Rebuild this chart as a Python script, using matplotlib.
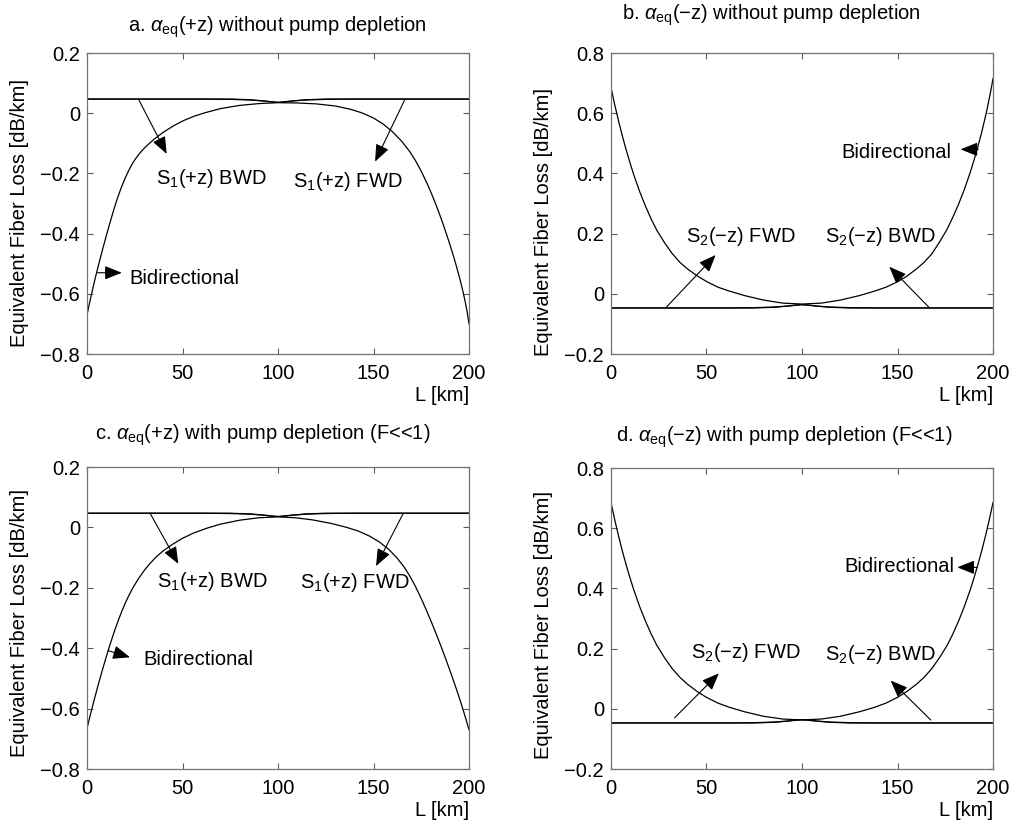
import matplotlib
matplotlib.use("Agg")
import matplotlib.pyplot as plt
from matplotlib.ticker import FuncFormatter

plt.rcParams['font.family'] = 'Liberation Sans'
plt.rcParams['mathtext.fontset'] = 'custom'
plt.rcParams['mathtext.rm'] = 'Liberation Sans'
plt.rcParams['mathtext.it'] = 'Liberation Sans:italic'
plt.rcParams['mathtext.bf'] = 'Liberation Sans:bold'
plt.rcParams['font.size'] = 14.5

# Bidirectional equivalent loss, alpha_eq(+z), no pump depletion
L_a = [0, 1, 2, 3, 4, 5, 6.5, 8, 10, 12, 14, 16, 18, 20, 22, 24, 26, 28, 30, 33, 36, 40, 45,
       50, 56, 62, 70, 80, 90, 100,
       110, 120, 130, 138, 144, 150, 155, 160, 165, 169, 172, 175, 178, 180, 182, 184, 186,
       188, 190, 192, 193.5, 195, 196, 197, 198, 199, 200]
bid_a = [-0.670, -0.640, -0.611, -0.583, -0.556, -0.530, -0.4925, -0.456, -0.409, -0.364,
         -0.321, -0.281, -0.246, -0.215, -0.188, -0.165, -0.146, -0.130, -0.116, -0.098,
         -0.082, -0.063, -0.043, -0.026, -0.010, 0.002, 0.0155, 0.026, 0.032, 0.035,
         0.034, 0.031, 0.024, 0.013, 0.001, -0.016, -0.036, -0.062, -0.095, -0.128, -0.158,
         -0.193, -0.233, -0.262, -0.293, -0.326, -0.361, -0.398, -0.437, -0.478, -0.511,
         -0.546, -0.571, -0.598, -0.627, -0.660, -0.700]

# alpha_eq(-z), no pump depletion
L_b = [0, 2, 4, 6, 8, 10, 12, 15, 18, 21, 24, 28, 32, 36, 40, 45, 50, 56, 62, 70, 80, 90, 100,
       110, 120, 130, 138, 144, 150, 155, 160, 164, 168, 172, 176, 179, 182, 185, 188, 190,
       192, 194, 196, 197, 198, 199, 200]
bid_b = [0.685, 0.627, 0.573, 0.523, 0.477, 0.434, 0.394, 0.340, 0.292, 0.249, 0.211, 0.170,
         0.134, 0.105, 0.083, 0.060, 0.041, 0.022, 0.009, -0.006, -0.021, -0.031, -0.034,
         -0.031, -0.021, -0.006, 0.009, 0.022, 0.040, 0.059, 0.083, 0.105, 0.133, 0.172,
         0.215, 0.255, 0.298, 0.347, 0.402, 0.443, 0.487, 0.535, 0.588, 0.617, 0.648, 0.680,
         0.715]

# alpha_eq(+z), pump depletion (F<<1)
L_c = [0, 2, 4, 6, 8, 10, 12, 14, 16, 18, 20, 22, 24, 27, 30, 33, 36.5, 40, 45, 50, 56, 63,
       70, 80, 90, 100,
       109, 118, 128, 136, 142, 148, 153, 158, 162, 166, 169, 172, 175, 178, 180, 182, 184,
       186, 188, 190, 192, 194, 196, 198, 200]
bid_c = [-0.665, -0.614, -0.565, -0.518, -0.473, -0.430, -0.389, -0.350, -0.314, -0.281,
         -0.251, -0.224, -0.200, -0.169, -0.142, -0.119, -0.096, -0.077, -0.055, -0.036,
         -0.018, -0.002, 0.011, 0.024, 0.032, 0.035,
         0.032, 0.025, 0.013, 0.000, -0.012, -0.029, -0.048, -0.073, -0.099, -0.131, -0.161,
         -0.196, -0.236, -0.279, -0.309, -0.340, -0.372, -0.405, -0.439, -0.474, -0.510,
         -0.547, -0.586, -0.627, -0.670]

# alpha_eq(-z), pump depletion (F<<1)
L_d = [0, 2, 4, 6, 8, 10, 12, 15, 18, 21, 24, 28, 32, 36, 40, 45, 50, 56, 62, 70, 80, 90, 100,
       110, 120, 130, 138, 144, 150, 155, 160, 164, 168, 172, 176, 179, 182, 185, 188, 190,
       192, 194, 196, 198, 200]
bid_d = [0.685, 0.627, 0.573, 0.523, 0.477, 0.434, 0.394, 0.340, 0.292, 0.249, 0.211, 0.170,
         0.134, 0.105, 0.082, 0.058, 0.038, 0.019, 0.005, -0.010, -0.025, -0.034, -0.037,
         -0.034, -0.025, -0.010, 0.005, 0.019, 0.038, 0.058, 0.082, 0.105, 0.134, 0.170,
         0.211, 0.249, 0.292, 0.340, 0.394, 0.434, 0.477, 0.523, 0.573, 0.627, 0.685]

# Single-pump (FWD / BWD) curves, nearly flat with a shallow sag near mid-span
L_flat = [0, 60, 75, 85, 92, 97, 100, 103, 108, 115, 125, 140, 200]
fwd_p = [0.047, 0.047, 0.046, 0.044, 0.041, 0.038, 0.036, 0.037, 0.041, 0.045, 0.047, 0.047, 0.047]
bwd_p = [0.047, 0.047, 0.047, 0.045, 0.041, 0.037, 0.036, 0.038, 0.041, 0.044, 0.046, 0.047, 0.047]
fwd_m = [-0.047, -0.047, -0.047, -0.045, -0.041, -0.037, -0.036, -0.038, -0.041, -0.044, -0.046, -0.047, -0.047]
bwd_m = [-0.047, -0.047, -0.046, -0.044, -0.041, -0.038, -0.036, -0.037, -0.041, -0.045, -0.047, -0.047, -0.047]

yt_plus = [-0.8, -0.6, -0.4, -0.2, 0, 0.2]
yt_minus = [-0.2, 0, 0.2, 0.4, 0.6, 0.8]
x_ticks = [0, 50, 100, 150, 200]

fig = plt.figure(figsize=(10.19, 8.31), dpi=100)
ax_a = fig.add_axes([0.0854, 0.574, 0.3749, 0.3622])
ax_b = fig.add_axes([0.5996, 0.574, 0.3749, 0.3622])
ax_c = fig.add_axes([0.0854, 0.0746, 0.3749, 0.3634])
ax_d = fig.add_axes([0.5996, 0.0746, 0.3749, 0.3622])

fmt = FuncFormatter(lambda v, p: f'{v:g}'.replace('-', '\u2212'))
arrow = dict(arrowstyle='-|>,head_length=0.7,head_width=0.28', color='k', lw=0.8,
             shrinkA=0, shrinkB=0, mutation_scale=15)


def setup(ax, ylim, yticks, title, tx, ty, ly):
    ax.set_xlim(0, 200)
    ax.set_ylim(ylim)
    ax.set_xticks(x_ticks)
    ax.set_yticks(yticks)
    ax.yaxis.set_major_formatter(fmt)
    ax.tick_params(direction='in', top=True, right=True, length=4, width=0.8,
                   color='0.35', labelsize=14.5)
    ax.tick_params(axis='x', pad=7)
    ax.tick_params(axis='y', pad=5)
    for s in ax.spines.values():
        s.set_color('0.45')
        s.set_linewidth(0.9)
    ax.set_xlabel('L [km]', loc='right', labelpad=2)
    ax.set_ylabel('Equivalent Fiber Loss [dB/km]')
    ax.yaxis.set_label_coords(-0.153, ly)
    ax.text(tx, ty, title, transform=ax.transAxes, ha='center', va='baseline')


def curves(ax, L, bid, fwd, bwd):
    ax.plot(L_flat, fwd, color='k', lw=0.9)
    ax.plot(L_flat, bwd, color='k', lw=0.9)
    ax.plot(L, bid, color='k', lw=0.9)


# a
curves(ax_a, L_a, bid_a, fwd_p, bwd_p)
setup(ax_a, (-0.8, 0.2), yt_plus, r'a. $\alpha_{\rm eq}$(+z) without pump depletion',
      0.497, 1.07, 0.468)
ax_a.annotate('', xy=(41.7, -0.135), xytext=(26.9, 0.047), arrowprops=arrow)
ax_a.annotate('', xy=(150.8, -0.161), xytext=(166.5, 0.047), arrowprops=arrow)
ax_a.annotate('', xy=(18.2, -0.53), xytext=(5.0, -0.53), arrowprops=arrow)
ax_a.text(36.1, -0.235, r'S$_1$(+z) BWD', ha='left', va='baseline')
ax_a.text(107.7, -0.244, r'S$_1$(+z) FWD', ha='left', va='baseline')
ax_a.text(22.2, -0.567, 'Bidirectional', ha='left', va='baseline')

# b
curves(ax_b, L_b, bid_b, fwd_m, bwd_m)
setup(ax_b, (-0.2, 0.8), yt_minus, 'b. $\\alpha_{\\rm eq}$(\u2212z) without pump depletion',
      0.419, 1.11, 0.44)
ax_b.annotate('', xy=(54.8, 0.129), xytext=(28.6, -0.047), arrowprops=arrow)
ax_b.annotate('', xy=(145.7, 0.09), xytext=(166.8, -0.047), arrowprops=arrow)
ax_b.annotate('', xy=(183.0, 0.48), xytext=(192.3, 0.48), arrowprops=arrow)
ax_b.text(39.1, 0.173, 'S$_2$(\u2212z) FWD', ha='left', va='baseline')
ax_b.text(112.0, 0.173, 'S$_2$(\u2212z) BWD', ha='left', va='baseline')
ax_b.text(178.4, 0.45, 'Bidirectional', ha='right', va='baseline')

# c
curves(ax_c, L_c, bid_c, fwd_p, bwd_p)
setup(ax_c, (-0.8, 0.2), yt_plus, r'c. $\alpha_{\rm eq}$(+z) with pump depletion (F<<1)',
      0.461, 1.089, 0.485)
ax_c.annotate('', xy=(47.8, -0.121), xytext=(33.0, 0.047), arrowprops=arrow)
ax_c.annotate('', xy=(151.3, -0.128), xytext=(165.6, 0.047), arrowprops=arrow)
ax_c.annotate('', xy=(22.5, -0.43), xytext=(11.0, -0.408), arrowprops=arrow)
ax_c.text(36.8, -0.196, r'S$_1$(+z) BWD', ha='left', va='baseline')
ax_c.text(111.5, -0.202, r'S$_1$(+z) FWD', ha='left', va='baseline')
ax_c.text(29.5, -0.456, 'Bidirectional', ha='left', va='baseline')

# d
curves(ax_d, L_d, bid_d, fwd_m, bwd_m)
setup(ax_d, (-0.2, 0.8), yt_minus, 'd. $\\alpha_{\\rm eq}$(\u2212z) with pump depletion (F<<1)',
      0.453, 1.087, 0.478)
ax_d.annotate('', xy=(56.5, 0.118), xytext=(33.3, -0.03), arrowprops=arrow)
ax_d.annotate('', xy=(146.4, 0.094), xytext=(167.4, -0.037), arrowprops=arrow)
ax_d.annotate('', xy=(181.3, 0.47), xytext=(191.8, 0.47), arrowprops=arrow)
ax_d.text(41.7, 0.168, 'S$_2$(\u2212z) FWD', ha='left', va='baseline')
ax_d.text(112.0, 0.162, 'S$_2$(\u2212z) BWD', ha='left', va='baseline')
ax_d.text(179.6, 0.456, 'Bidirectional', ha='right', va='baseline')

fig.savefig('out.png', dpi=100)
